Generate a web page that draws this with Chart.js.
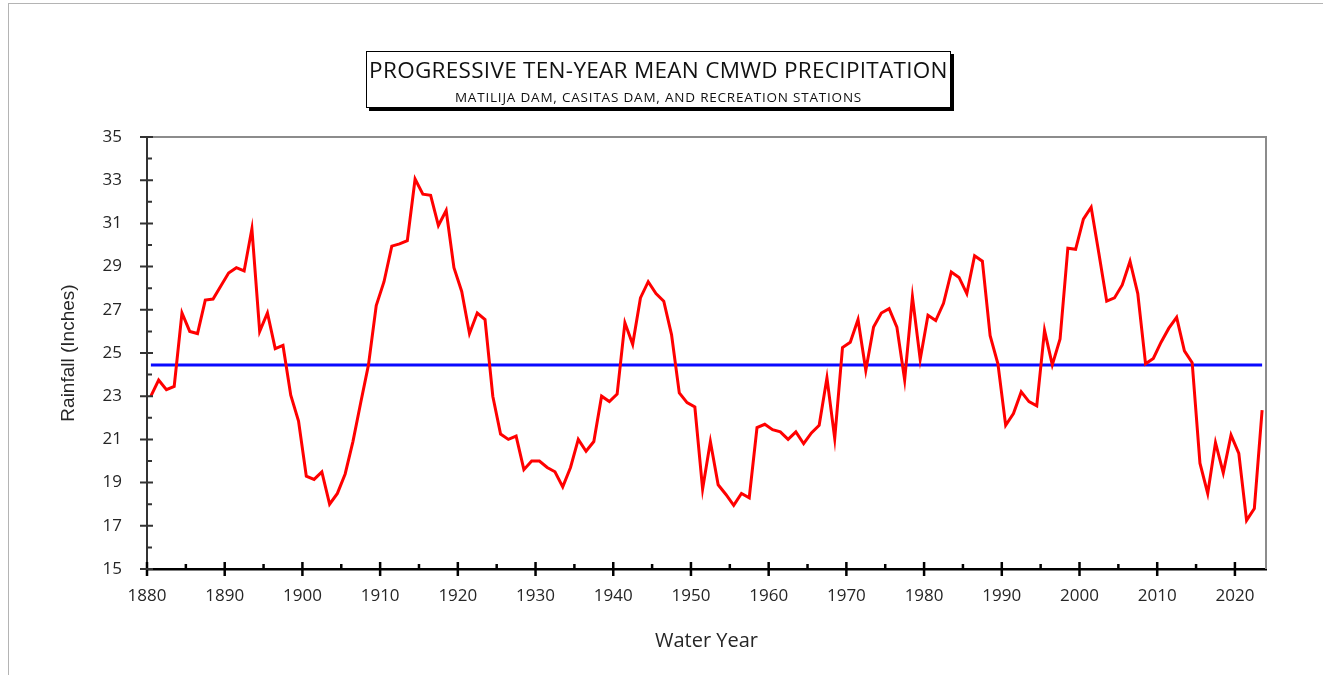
<!DOCTYPE html>
<html>
<head>
<meta charset="utf-8">
<title>Progressive Ten-Year Mean CMWD Precipitation</title>
<script src="https://cdn.jsdelivr.net/npm/chart.js@4.4.0/dist/chart.umd.min.js"></script>
<style>
    html, body { margin: 0; padding: 0; background: #fff; overflow: hidden; }
    #wrap { position: relative; width: 1323px; height: 675px; }
    #frame { position: absolute; left: 8px; top: 3px; width: 1400px; height: 800px; border: 1px solid #b4b4b4; box-sizing: border-box; }
    #titleBox {
        position: absolute; left: 366px; top: 51px; width: 585px; height: 57px;
        border: 1px solid #000; box-sizing: border-box; background: #fff;
        box-shadow: 3px 3px 0 #000; text-align: center; font-family: "Open Sans", sans-serif; color: #111;
        white-space: nowrap;
    }
    #titleBox .main { font-size: 22.5px; line-height: 26px; margin-top: 5px; letter-spacing: 0.3px; }
    #titleBox .sub { font-size: 13.5px; line-height: 16px; margin-top: 6px; letter-spacing: 0.8px; }
    canvas { position: absolute; left: 0; top: 0; }
</style>
</head>
<body>
<div id="wrap">
    <div id="frame"></div>
    <canvas id="rainChart" width="1323" height="675"></canvas>
    <div id="titleBox">
        <div class="main">PROGRESSIVE TEN-YEAR MEAN CMWD PRECIPITATION</div>
        <div class="sub">MATILIJA DAM, CASITAS DAM, AND RECREATION STATIONS</div>
    </div>
</div>
<script>
// 📅 DATA - water years 1880..2023
const firstYear = 1880;
const tenYearMean = [
    23.0, 23.75, 23.3, 23.45, 26.85, 26.0, 25.9, 27.45, 27.5, 28.1,
    28.7, 28.95, 28.8, 30.75, 26.0, 26.85, 25.2, 25.35, 23.05, 21.85,
    19.3, 19.15, 19.5, 18.0, 18.5, 19.4, 20.9, 22.7, 24.45, 27.2,
    28.3, 29.95, 30.05, 30.2, 33.05, 32.35, 32.3, 30.9, 31.6, 28.95,
    27.85, 25.9, 26.85, 26.55, 23.0, 21.25, 21.0, 21.15, 19.6, 20.0,
    20.0, 19.7, 19.5, 18.8, 19.7, 21.0, 20.45, 20.9, 23.0, 22.75,
    23.1, 26.4, 25.4, 27.55, 28.3, 27.75, 27.4, 25.85, 23.15, 22.7,
    22.5, 18.7, 20.9, 18.9, 18.45, 17.95, 18.5, 18.3, 21.55, 21.7,
    21.45, 21.35, 21.0, 21.35, 20.8, 21.3, 21.65, 23.85, 21.05, 25.25,
    25.5, 26.55, 24.2, 26.2, 26.85, 27.05, 26.2, 23.75, 27.6, 24.7,
    26.75, 26.5, 27.3, 28.75, 28.5, 27.75, 29.5, 29.25, 25.8, 24.5,
    21.65, 22.2, 23.2, 22.75, 22.55, 26.05, 24.45, 25.65, 29.85, 29.8,
    31.2, 31.75, 29.6, 27.4, 27.55, 28.15, 29.25, 27.75, 24.5, 24.75,
    25.5, 26.15, 26.65, 25.1, 24.55, 19.9, 18.5, 20.85, 19.45, 21.2,
    20.35, 17.25, 17.8, 22.35
];
const years = tenYearMean.map((v, i) => firstYear + i);
const longTermMean = 24.45;

// 📏 TICKS
const xTicks = [1880, 1890, 1900, 1910, 1920, 1930, 1940, 1950, 1960, 1970, 1980, 1990, 2000, 2010, 2020];
const xMinorTicks = [1885, 1895, 1905, 1915, 1925, 1935, 1945, 1955, 1965, 1975, 1985, 1995, 2005, 2015];
const yTicks = [15, 17, 19, 21, 23, 25, 27, 29, 31, 33, 35];
const yMinorTicks = [16, 18, 20, 22, 24, 26, 28, 30, 32, 34];

// each water year is drawn in the middle of its year span
const meanPoints = years.map((y, i) => ({ x: y + 0.5, y: tenYearMean[i] }));
const avgPoints = [
    { x: years[0] + 0.5, y: longTermMean },
    { x: years[years.length - 1] + 0.5, y: longTermMean }
];

const labelFont = { family: "Open Sans", size: 17 };
const textColor = "#262626";

// 🔲 gray frame on top/right of plot
const plotFrame = {
    id: "plotFrame",
    beforeDatasetsDraw: (chart) => {
        const { ctx, chartArea: a } = chart;
        ctx.save();
        ctx.strokeStyle = "#8c8c8c";
        ctx.lineWidth = 2;
        ctx.beginPath();
        ctx.moveTo(a.left, a.top);
        ctx.lineTo(a.right, a.top);
        ctx.lineTo(a.right, a.bottom);
        ctx.stroke();
        ctx.restore();
    }
};

// ✏️ tick marks (major crossing, minor inside)
const axisTicks = {
    id: "axisTicks",
    afterDatasetsDraw: (chart) => {
        const { ctx, chartArea: a, scales } = chart;
        ctx.save();
        ctx.strokeStyle = "#000";
        ctx.lineWidth = 2.5;
        ctx.beginPath();
        xTicks.forEach(v => {
            const px = scales.x.getPixelForValue(v);
            ctx.moveTo(px, a.bottom - 7);
            ctx.lineTo(px, a.bottom + 7);
        });
        xMinorTicks.forEach(v => {
            const px = scales.x.getPixelForValue(v);
            ctx.moveTo(px, a.bottom - 5);
            ctx.lineTo(px, a.bottom);
        });
        ctx.stroke();
        ctx.lineWidth = 2;
        ctx.strokeStyle = "#333";
        ctx.beginPath();
        yTicks.forEach(v => {
            const py = scales.y.getPixelForValue(v);
            ctx.moveTo(a.left - 7, py);
            ctx.lineTo(a.left + 6, py);
        });
        yMinorTicks.forEach(v => {
            const py = scales.y.getPixelForValue(v);
            ctx.moveTo(a.left, py);
            ctx.lineTo(a.left + 5, py);
        });
        ctx.stroke();
        ctx.restore();
    }
};

new Chart(document.getElementById("rainChart"), {
    type: "line",
    data: {
        datasets: [
            {
                label: "Ten-Year Mean",
                data: meanPoints,
                borderColor: "#ff0000",
                borderWidth: 3,
                pointRadius: 0,
                tension: 0,
                fill: false
            },
            {
                label: "Long-Term Mean",
                data: avgPoints,
                borderColor: "#0a0aff",
                borderWidth: 3,
                pointRadius: 0,
                fill: false
            }
        ]
    },
    options: {
        responsive: false,
        animation: false,
        layout: { padding: { left: 0, top: 137, right: 57, bottom: 0 } },
        plugins: {
            legend: { display: false },
            tooltip: { enabled: false }
        },
        scales: {
            x: {
                type: "linear",
                min: 1880,
                max: 2024,
                afterBuildTicks: (s) => { s.ticks = xTicks.map(v => ({ value: v })); },
                afterFit: (s) => { s.height = 106; },
                grid: { drawOnChartArea: false, drawTicks: false },
                border: { display: true, color: "#000", width: 2.5 },
                ticks: {
                    padding: 17,
                    color: textColor,
                    font: labelFont,
                    maxRotation: 0,
                    autoSkip: false,
                    callback: (v) => String(v)
                },
                title: {
                    display: true,
                    text: "Water Year",
                    color: textColor,
                    font: { family: "Open Sans", size: 20 },
                    padding: { top: 0, bottom: 22 }
                }
            },
            y: {
                min: 15,
                max: 35,
                afterBuildTicks: (s) => { s.ticks = yTicks.map(v => ({ value: v })); },
                afterFit: (s) => { s.width = 147; },
                grid: { drawOnChartArea: false, drawTicks: false },
                border: { display: true, color: "#333", width: 2 },
                ticks: {
                    padding: 25,
                    color: textColor,
                    font: labelFont,
                    callback: (v) => String(v)
                },
                title: {
                    display: true,
                    text: "Rainfall (Inches)",
                    color: textColor,
                    font: { family: "Liberation Sans", size: 19 },
                    padding: { top: 57, bottom: 0 }
                }
            }
        }
    },
    plugins: [plotFrame, axisTicks]
});
</script>
</body>
</html>
